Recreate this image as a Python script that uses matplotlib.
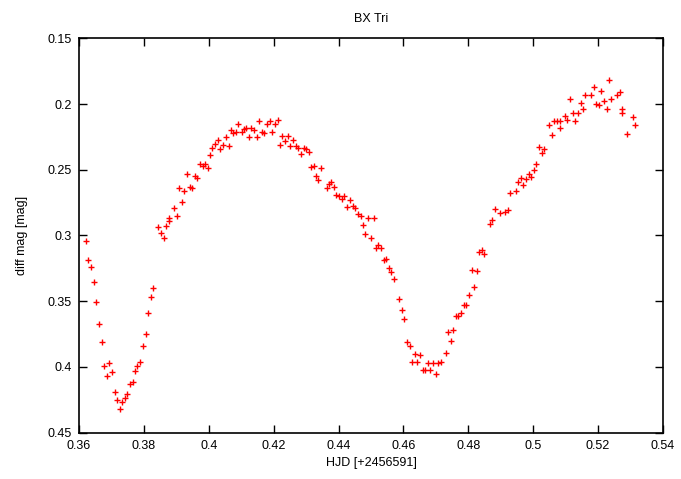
import matplotlib
matplotlib.use('Agg')
import matplotlib.pyplot as plt

plt.rcParams['font.family'] = ['Liberation Sans', 'DejaVu Sans']

# HJD offsets (+2456591) and differential magnitudes of BX Tri
hjd = [0.3621, 0.3629, 0.3636, 0.3645, 0.3653, 0.3661, 0.3670, 0.3678, 0.3686, 0.3693,
       0.3702, 0.3710, 0.3717, 0.3725, 0.3733, 0.3741, 0.3749, 0.3757, 0.3765, 0.3773,
       0.3779, 0.3789, 0.3797, 0.3805, 0.3813, 0.3822, 0.3829, 0.3844, 0.3852, 0.3861,
       0.3869, 0.3876, 0.3878, 0.3892, 0.3901, 0.3909, 0.3917, 0.3925, 0.3932, 0.3941,
       0.3949, 0.3957, 0.3965, 0.3972, 0.3981, 0.3988, 0.3997, 0.4004, 0.4011, 0.4019,
       0.4027, 0.4036, 0.4044, 0.4052, 0.4061, 0.4068, 0.4076, 0.4083, 0.4091, 0.4101,
       0.4108, 0.4116, 0.4123, 0.4131, 0.4139, 0.4148, 0.4156, 0.4163, 0.4171, 0.4179,
       0.4188, 0.4196, 0.4204, 0.4212, 0.4218, 0.4227, 0.4235, 0.4243, 0.4250, 0.4259,
       0.4268, 0.4276, 0.4283, 0.4292, 0.4300, 0.4308, 0.4316, 0.4323, 0.4330, 0.4338,
       0.4347, 0.4363, 0.4371, 0.4378, 0.4387, 0.4391, 0.4402, 0.4410, 0.4418, 0.4427,
       0.4435, 0.4443, 0.4451, 0.4459, 0.4468, 0.4475, 0.4483, 0.4491, 0.4499, 0.4508,
       0.4515, 0.4523, 0.4531, 0.4539, 0.4547, 0.4555, 0.4563, 0.4571, 0.4587, 0.4595,
       0.4603, 0.4611, 0.4619, 0.4626, 0.4635, 0.4642, 0.4650, 0.4659, 0.4667, 0.4675,
       0.4683, 0.4691, 0.4699, 0.4708, 0.4716, 0.4730, 0.4738, 0.4746, 0.4754, 0.4762,
       0.4769, 0.4778, 0.4786, 0.4794, 0.4802, 0.4810, 0.4818, 0.4826, 0.4833, 0.4841,
       0.4849, 0.4866, 0.4874, 0.4882, 0.4898, 0.4914, 0.4921, 0.4929, 0.4946, 0.4954,
       0.4962, 0.4970, 0.4978, 0.4986, 0.4994, 0.5001, 0.5009, 0.5018, 0.5026, 0.5034,
       0.5049, 0.5058, 0.5065, 0.5073, 0.5081, 0.5081, 0.5097, 0.5105, 0.5113, 0.5122,
       0.5130, 0.5137, 0.5146, 0.5154, 0.5161, 0.5178, 0.5186, 0.5194, 0.5202, 0.5209,
       0.5218, 0.5226, 0.5234, 0.5241, 0.5258, 0.5266, 0.5273, 0.5273, 0.5289, 0.5306,
       0.5314]
mag = [0.3040, 0.3189, 0.3240, 0.3351, 0.3508, 0.3671, 0.3810, 0.3991, 0.4067, 0.3970,
       0.4039, 0.4189, 0.4249, 0.4320, 0.4269, 0.4239, 0.4208, 0.4128, 0.4117, 0.4033,
       0.3995, 0.3960, 0.3839, 0.3750, 0.3592, 0.3470, 0.3399, 0.2938, 0.2979, 0.3019,
       0.2928, 0.2864, 0.2887, 0.2791, 0.2849, 0.2641, 0.2743, 0.2659, 0.2530, 0.2631,
       0.2641, 0.2549, 0.2560, 0.2458, 0.2469, 0.2458, 0.2489, 0.2390, 0.2332, 0.2301,
       0.2271, 0.2342, 0.2311, 0.2250, 0.2319, 0.2199, 0.2220, 0.2210, 0.2149, 0.2210,
       0.2189, 0.2180, 0.2250, 0.2180, 0.2199, 0.2250, 0.2129, 0.2210, 0.2220, 0.2149,
       0.2129, 0.2210, 0.2149, 0.2119, 0.2311, 0.2240, 0.2281, 0.2240, 0.2321, 0.2271,
       0.2321, 0.2332, 0.2382, 0.2332, 0.2342, 0.2362, 0.2479, 0.2469, 0.2549, 0.2575,
       0.2489, 0.2641, 0.2610, 0.2595, 0.2631, 0.2692, 0.2702, 0.2722, 0.2702, 0.2783,
       0.2730, 0.2773, 0.2793, 0.2834, 0.2854, 0.2920, 0.2991, 0.2869, 0.3021, 0.2869,
       0.3093, 0.3072, 0.3093, 0.3189, 0.3179, 0.3250, 0.3280, 0.3331, 0.3483, 0.3569,
       0.3639, 0.3810, 0.3841, 0.3963, 0.3902, 0.3963, 0.3912, 0.4021, 0.4021, 0.3970,
       0.4021, 0.3970, 0.4052, 0.3970, 0.3960, 0.3892, 0.3732, 0.3801, 0.3719, 0.3613,
       0.3613, 0.3592, 0.3531, 0.3531, 0.3453, 0.3260, 0.3390, 0.3270, 0.3129, 0.3110,
       0.3141, 0.2912, 0.2882, 0.2800, 0.2831, 0.2821, 0.2808, 0.2674, 0.2659, 0.2593,
       0.2565, 0.2613, 0.2568, 0.2530, 0.2552, 0.2499, 0.2458, 0.2329, 0.2370, 0.2339,
       0.2161, 0.2233, 0.2131, 0.2131, 0.2131, 0.2182, 0.2087, 0.2121, 0.1961, 0.2070,
       0.2131, 0.2070, 0.1989, 0.2040, 0.1928, 0.1928, 0.1868, 0.1999, 0.2009, 0.1898,
       0.1979, 0.2040, 0.1817, 0.1959, 0.1928, 0.1908, 0.2040, 0.2070, 0.2230, 0.2100,
       0.2161]

xticks = [0.36, 0.38, 0.4, 0.42, 0.44, 0.46, 0.48, 0.5, 0.52, 0.54]
xticklabels = ['0.36', '0.38', '0.4', '0.42', '0.44', '0.46', '0.48', '0.5', '0.52', '0.54']
yticks = [0.15, 0.2, 0.25, 0.3, 0.35, 0.4, 0.45]
yticklabels = ['0.15', '0.2', '0.25', '0.3', '0.35', '0.4', '0.45']

fig = plt.figure(figsize=(6.81, 4.79), dpi=100)
ax = fig.add_axes([79 / 681, 1 - 432.6 / 479, (663 - 79) / 681, (432.6 - 38.4) / 479])

ax.plot(hjd, mag, '+', color='red', markersize=5, markeredgewidth=1.0)

ax.set_xlim(0.36, 0.54)
ax.set_ylim(0.45, 0.15)
ax.set_xticks(xticks)
ax.set_xticklabels(xticklabels)
ax.set_yticks(yticks)
ax.set_yticklabels(yticklabels)
ax.tick_params(direction='in', length=6, width=1, top=True, right=True,
               labelsize=9, pad=5)
for s in ax.spines.values():
    s.set_linewidth(1.2)

ax.set_title('BX Tri', fontsize=9, pad=12)
ax.set_xlabel('HJD [+2456591]', fontsize=9, labelpad=4)
ax.set_ylabel('diff mag [mag]', fontsize=9, labelpad=14)

fig.savefig('out.png', dpi=100)
